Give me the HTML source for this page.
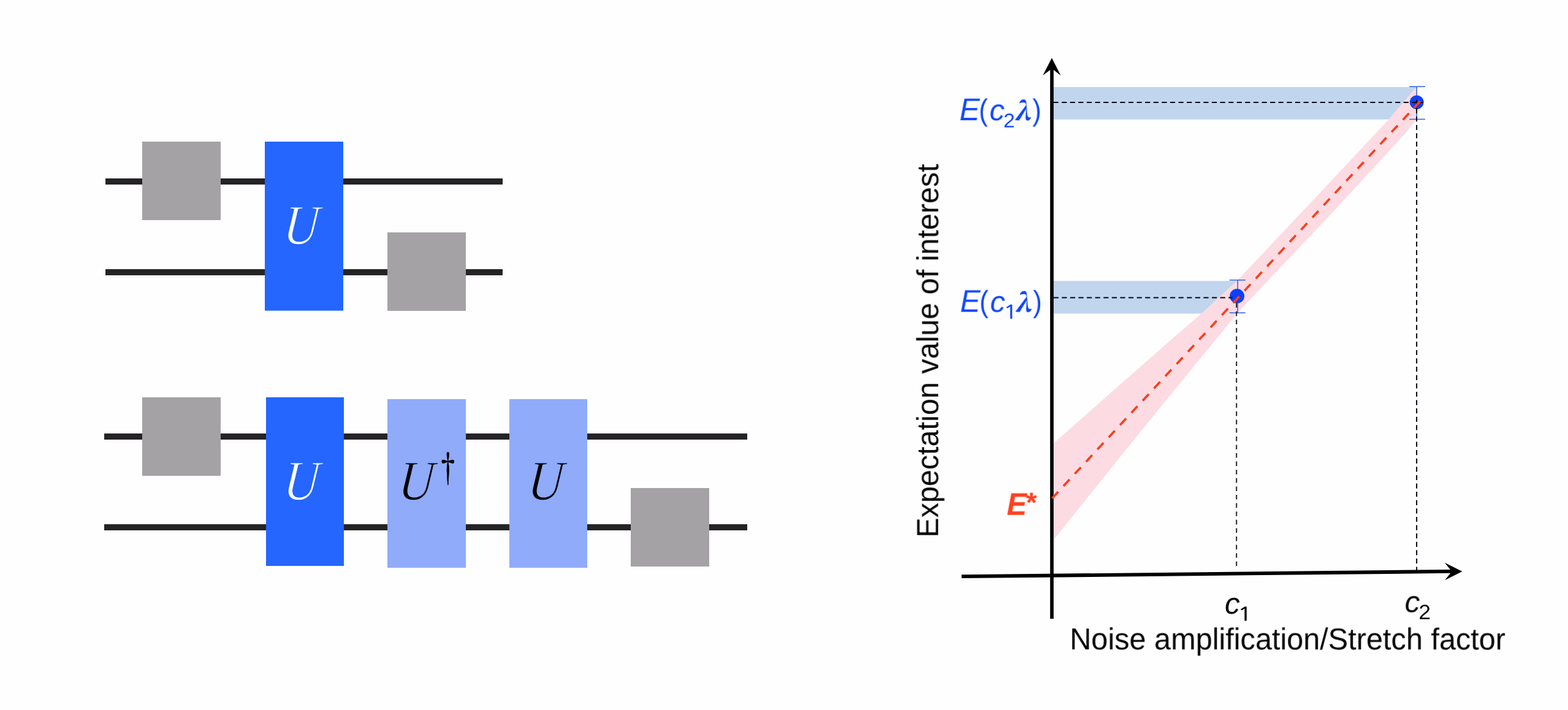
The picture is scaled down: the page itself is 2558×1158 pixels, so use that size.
<!DOCTYPE html>
<html lang="en">
<head>
<meta charset="utf-8">
<title>Zero-noise extrapolation by unitary folding</title>
<style>
  html, body { margin: 0; padding: 0; background: #fffeff; }
  body { width: 2558px; height: 1158px; overflow: hidden; position: relative; }
  svg { display: block; position: absolute; left: 0; top: 0; }
  .serif { font-family: "Liberation Serif", "Times New Roman", serif; }
  .t { position: absolute; left: 0; top: 0; width: 0; height: 0; }
  .t span { position: absolute; left: 0; top: 0; line-height: 1; white-space: pre; transform-origin: 0 0; font-size: 48.6px; will-change: transform; text-rendering: geometricPrecision; }
</style>
</head>
<body>
<svg width="2558" height="1158" viewBox="0 0 2558 1158">
  <rect width="2558" height="1158" fill="#fffeff"/>

  <!-- circuit 1 -->
  <g>
    <rect x="172" y="291" width="648" height="10" fill="#252326"/>
    <rect x="172" y="439" width="648" height="10" fill="#252326"/>
    <rect x="232" y="231" width="128" height="128" fill="#a4a2a4"/>
    <rect x="632" y="379" width="128" height="128" fill="#a4a2a4"/>
    <rect x="432" y="231" width="128" height="275.7" fill="#2466ff"/>
    <text class="serif" transform="translate(460.85 398.45) skewX(-5) scale(0.86 1)" font-size="92" font-style="italic" fill="#ffffff" stroke="#2466ff" stroke-width="1.3">U</text>
  </g>

  <!-- circuit 2 -->
  <g>
    <rect x="170" y="707" width="1049" height="10" fill="#252326"/>
    <rect x="170" y="855" width="1049" height="10" fill="#252326"/>
    <rect x="232" y="648" width="128" height="128" fill="#a4a2a4"/>
    <rect x="1029" y="796" width="128" height="128" fill="#a4a2a4"/>
    <rect x="434" y="648" width="127" height="275" fill="#2466ff"/>
    <rect x="632" y="651" width="128" height="275" fill="#8fabfa"/>
    <rect x="831" y="651" width="127" height="275" fill="#8fabfa"/>
    <text class="serif" transform="translate(461.1 814.95) skewX(-5) scale(0.86 1)" font-size="92" font-style="italic" fill="#ffffff" stroke="#2466ff" stroke-width="1.3">U</text>
    <text class="serif" transform="translate(648.45 815) skewX(-5) scale(0.86 1)" font-size="92" font-style="italic" fill="#000000" stroke="#8fabfa" stroke-width="1.3">U</text>
    <text transform="translate(710.1 787.1) skewX(0.02) scale(0.68 1)" font-family="'Noto Serif CJK SC','Liberation Serif',serif" font-size="61" fill="#000000" stroke="#000000" stroke-width="0.7">†</text>
    <text class="serif" transform="translate(859.5 815.45) skewX(-5) scale(0.86 1)" font-size="92" font-style="italic" fill="#000000" stroke="#8fabfa" stroke-width="1.3">U</text>
  </g>

  <!-- chart -->
  <g>
    <rect x="1717" y="142" width="594.2" height="52.8" fill="#c1d5ee"/>
    <rect x="1717" y="458.2" width="302" height="53.3" fill="#c1d5ee"/>
    <path d="M1717 724.4 L1840 616 L1903.7 560 L1959.8 511.6 L2019 457 L2130.2 339 L2263 197.5 L2310.7 141.6 L2310.7 194.8 L2290 220.5 L2170 350.5 L2028 500.5 L2019 510.4 L1960 582.3 L1840 729.5 L1717 882.8 Z" fill="#fddbe3"/>
    <g stroke="#2f5fe8" stroke-width="1.5" fill="none">
      <path d="M2311.2 141.3 V194.4 M2299.2 141.3 H2325 M2299.2 194.4 H2325"/>
      <path d="M2019.1 456.8 V510.3 M2005.8 456.8 H2031.7 M2005.8 510.3 H2031.7"/>
    </g>
    <circle cx="2311.2" cy="166.8" r="11.4" fill="#0f40f8"/>
    <circle cx="2018.1" cy="482.9" r="11.9" fill="#0f40f8"/>
    <g stroke="#06060f" stroke-width="2" fill="none" stroke-dasharray="8.2 5.4">
      <line x1="1718.5" y1="167" x2="2321.5" y2="167"/>
      <line x1="1718.6" y1="485.5" x2="2010.5" y2="485.5"/>
      <line x1="2311.1" y1="162.9" x2="2311.1" y2="931"/>
      <line x1="2017.2" y1="494.2" x2="2017.2" y2="923.1" stroke="#222228" stroke-dasharray="7.6 6"/>
    </g>
    <!-- axes -->
    <line x1="1716" y1="112" x2="1716" y2="1009.2" stroke="#000" stroke-width="5.7"/>
    <path d="M1715.9 94.4 L1730.4 123 L1718.8 113.9 L1713.2 113.9 L1701.3 123 Z" fill="#000"/>
    <line x1="1568.7" y1="940.2" x2="2367" y2="931.92" stroke="#000" stroke-width="5.8"/>
    <path d="M2385.5 932 L2356.8 917.7 L2366 929.1 L2366 935.1 L2357.2 946.2 Z" fill="#000"/>
    <!-- linear fit -->
    <line x1="1716.48" y1="812.69" x2="2317.02" y2="164.82" stroke="#f8401f" stroke-width="3.7" stroke-dasharray="14.6 12.55"/>
  </g>
</svg>
<div class="t" aria-label="E(c2λ)" style="color:#1148fb"><span style="font-family:'Liberation Sans',Arial,Helvetica,sans-serif;font-style:italic;transform:matrix(1.0248,0.0003,-0.0003,1.0575,1565.29,154.30)">E</span><span style="font-family:'Liberation Sans',Arial,Helvetica,sans-serif;transform:matrix(0.9025,0.0003,-0.0003,1.0148,1596.87,155.34)">(</span><span style="font-family:'Liberation Sans',Arial,Helvetica,sans-serif;font-style:italic;transform:matrix(1.0180,0.0003,-0.0003,0.9912,1614.24,156.51)">c</span><span style="font-family:'Liberation Sans',Arial,Helvetica,sans-serif;transform:matrix(0.6945,0.0003,-0.0003,0.6597,1636.97,181.25)">2</span><span style="font-family:'Noto Serif CJK SC','Liberation Serif',serif;font-style:italic;font-weight:900;transform:matrix(0.8074,0.0003,-0.0003,0.8406,1655.08,158.11)">λ</span><span style="font-family:'Liberation Sans',Arial,Helvetica,sans-serif;transform:matrix(0.8923,0.0003,-0.0003,1.0158,1684.33,155.35)">)</span></div>
<div class="t" aria-label="E(c1λ)" style="color:#1148fb"><span style="font-family:'Liberation Sans',Arial,Helvetica,sans-serif;font-style:italic;transform:matrix(1.0211,0.0003,-0.0003,1.0575,1566.33,466.81)">E</span><span style="font-family:'Liberation Sans',Arial,Helvetica,sans-serif;transform:matrix(0.9128,0.0003,-0.0003,1.0166,1597.84,467.78)">(</span><span style="font-family:'Liberation Sans',Arial,Helvetica,sans-serif;font-style:italic;transform:matrix(1.0158,0.0003,-0.0003,0.9911,1615.24,469.01)">c</span><span style="font-family:'NanumGothic','Liberation Sans',sans-serif;-webkit-text-stroke:0.7px currentColor;transform:matrix(0.8206,0.0003,-0.0003,0.6299,1636.34,493.76)">1</span><span style="font-family:'Noto Serif CJK SC','Liberation Serif',serif;font-style:italic;font-weight:900;transform:matrix(0.8146,0.0003,-0.0003,0.8446,1655.79,470.50)">λ</span><span style="font-family:'Liberation Sans',Arial,Helvetica,sans-serif;transform:matrix(0.8996,0.0003,-0.0003,1.0177,1685.25,467.78)">)</span></div>
<div class="t" aria-label="E*" style="color:#ff4120"><span style="font-family:'Liberation Sans',Arial,Helvetica,sans-serif;font-style:italic;font-weight:bold;transform:matrix(1.0079,0.0003,-0.0003,1.0517,1642.47,797.92)">E</span><span style="font-family:'Liberation Sans',Arial,Helvetica,sans-serif;font-style:italic;font-weight:bold;transform:matrix(0.9413,0.0003,-0.0003,0.9273,1671.90,797.68)">*</span></div>
<div class="t" aria-label="c1" style="color:#050505"><span style="font-family:'Liberation Sans',Arial,Helvetica,sans-serif;font-style:italic;transform:matrix(1.0215,0.0003,-0.0003,0.9960,1998.00,961.09)">c</span><span style="font-family:'NanumGothic','Liberation Sans',sans-serif;-webkit-text-stroke:0.7px currentColor;transform:matrix(0.8348,0.0003,-0.0003,0.6287,2018.57,986.40)">1</span></div>
<div class="t" aria-label="c2" style="color:#050505"><span style="font-family:'Liberation Sans',Arial,Helvetica,sans-serif;font-style:italic;transform:matrix(1.0212,0.0003,-0.0003,1.0007,2291.62,958.28)">c</span><span style="font-family:'Liberation Sans',Arial,Helvetica,sans-serif;transform:matrix(0.7251,0.0003,-0.0003,0.6888,2314.41,982.19)">2</span></div>
<div class="t" style="color:#050505"><span style="font-family:'Liberation Sans',Arial,Helvetica,sans-serif;transform:matrix(1.0007,0.0003,-0.0003,1.0199,1745.23,1018.20)">Noise amplification/Stretch factor</span></div>
<div class="t" style="color:#050505"><span style="font-family:'Liberation Sans',Arial,Helvetica,sans-serif;transform:matrix(0.0003,-0.9981,1.0215,0.0003,1489.49,876.67)">Expectation value of interest</span></div>
</body>
</html>
